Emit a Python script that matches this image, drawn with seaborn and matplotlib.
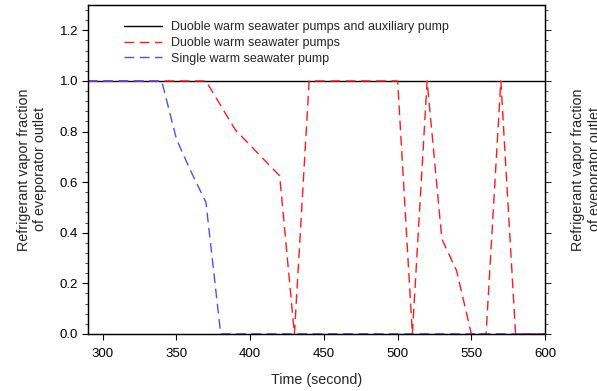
import matplotlib
matplotlib.use("Agg")
import matplotlib.pyplot as plt
import seaborn as sns
import pandas as pd
from matplotlib.ticker import MultipleLocator

time = [290, 300, 310, 320, 330, 340, 350, 360, 370, 380, 390, 400, 410, 420, 430,
        440, 450, 460, 470, 480, 490, 500, 510, 520, 530, 540, 550, 560, 570, 580, 590, 600]
aux_pump = [1.0] * len(time)
double_pumps = [1.0, 1.0, 1.0, 1.0, 1.0, 1.0, 1.0, 1.0, 1.0, 0.903, 0.806, 0.746, 0.685, 0.625, 0.0,
                1.0, 1.0, 1.0, 1.0, 1.0, 1.0, 1.0, 0.0, 1.0, 0.375, 0.25, 0.0, 0.0, 1.0, 0.0, 0.0, 0.0]
single_pump = [1.0, 1.0, 1.0, 1.0, 1.0, 1.0, 0.77, 0.64, 0.52, 0.0, 0.0, 0.0, 0.0, 0.0, 0.0,
               0.0, 0.0, 0.0, 0.0, 0.0, 0.0, 0.0, 0.0, 0.0, 0.0, 0.0, 0.0, 0.0, 0.0, 0.0, 0.0, 0.0]
labels = ["Duoble warm seawater pumps and auxiliary pump",
          "Duoble warm seawater pumps",
          "Single warm seawater pump"]
yticks = [0.0, 0.2, 0.4, 0.6, 0.8, 1.0, 1.2]
xticks = [300, 350, 400, 450, 500, 550, 600]

sns.set_theme(style="white")
plt.rcParams['font.family'] = ['Liberation Sans', 'DejaVu Sans']

df = pd.DataFrame({"time": time, labels[0]: aux_pump, labels[1]: double_pumps, labels[2]: single_pump})

fig = plt.figure(figsize=(5.97, 3.91), dpi=100)
ax = fig.add_axes([0.1474, 0.146, 0.913 - 0.1474, 0.987 - 0.146])

sns.lineplot(data=df, x="time", y=labels[0], ax=ax, color="black", linewidth=1.0, label=labels[0])
sns.lineplot(data=df, x="time", y=labels[1], ax=ax, color="#ff1a1a", linewidth=1.0, label=labels[1])
sns.lineplot(data=df, x="time", y=labels[2], ax=ax, color="#4d4dff", linewidth=1.0, label=labels[2])
lines = ax.get_lines()
lines[1].set_dashes([7, 4])
lines[2].set_dashes([7, 4])

ax.set_xlim(290, 600)
ax.set_ylim(0, 1.3)
ax.set_xticks(xticks)
ax.set_yticks(yticks)
ax.set_yticklabels([f"{v:.1f}" for v in yticks])
ax.yaxis.set_minor_locator(MultipleLocator(0.04))
ax.tick_params(axis='x', which='major', direction='out', length=4, width=0.8, labelsize=9.5,
               colors='black', pad=6.5, bottom=True)
ax.tick_params(axis='y', which='major', direction='out', length=4, width=0.8, labelsize=9.5,
               colors='black', pad=3, left=True)
ax.tick_params(axis='y', which='minor', direction='out', length=2.5, width=0.6, left=True)
for s in ax.spines.values():
    s.set_color('black')
    s.set_linewidth(0.9)

ylab = "Refrigerant vapor fraction\nof eveporator outlet"
ax.set_xlabel("Time (second)", fontsize=10.3, labelpad=9)
ax.set_ylabel(ylab, fontsize=10.3, labelpad=9, linespacing=1.2)

ax2 = ax.twinx()
ax2.set_ylim(0, 1.3)
ax2.set_yticks(yticks)
ax2.yaxis.set_minor_locator(MultipleLocator(0.04))
ax2.tick_params(axis='y', which='major', direction='out', length=4, width=0.8, right=True, labelright=False)
ax2.tick_params(axis='y', which='minor', direction='out', length=2.5, width=0.6, right=True)
ax2.set_ylabel(ylab, fontsize=10.3, labelpad=13, linespacing=1.2)
for s in ax2.spines.values():
    s.set_color('black')
    s.set_linewidth(0.9)

leg = ax.legend(loc='upper left', bbox_to_anchor=(0.055, 0.985), frameon=False, fontsize=9.0,
                handlelength=3.0, handletextpad=0.75, labelspacing=0.3)

fig.savefig("out.png", dpi=100)
